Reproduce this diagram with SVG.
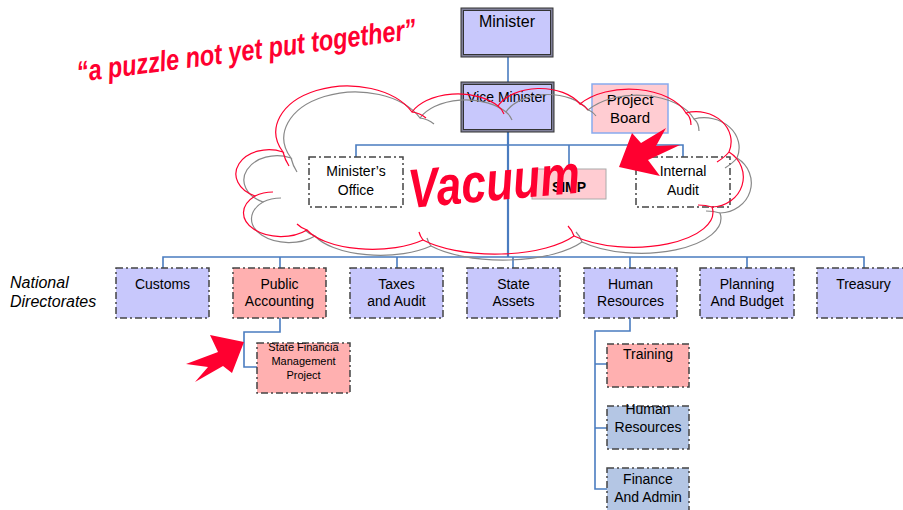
<svg xmlns="http://www.w3.org/2000/svg" width="903" height="510" viewBox="0 0 903 510">
<style>
text{font-family:"Liberation Sans",Arial,sans-serif;fill:#000;text-anchor:middle}
.t14{font-size:14px}
.dd{stroke:#444;stroke-width:1.5;stroke-dasharray:7 3 2 3}
.lav{fill:#c8c8fc}
.pink{fill:#ffb0b0}
.steel{fill:#b4c6e4}
.conn{fill:none;stroke:#4a7cc0;stroke-width:1.6}
.red{fill:#ff0030}
</style>
<defs>
<path id="cloud" d="M283,152 A70,45 0 0 1 412,112 A50,30 0 0 1 498,106 A45,28 0 0 1 580,104 A60,35 0 0 1 686,113 A35,30 0 0 1 729,152 A32,30 0 0 1 712,207 A80,35 0 0 1 574,236 A90,35 0 0 1 423,240 A70,30 0 0 1 307,230 A35,22 0 0 1 255,196 A30,22 0 0 1 283,152 Z"/>
<path id="hooks" d="M283,152 q2,8 6,14 M412,112 q8,1 14,6 M498,106 q4,3 6,8 M580,104 q4,1 8,6 M686,113 q5,4 5,12 M729,152 q-4,5 -12,10 M712,207 q-6,-2 -14,-2 M574,236 q-2,-6 -6,-10 M423,240 q-3,-4 -4,-8 M307,230 q-6,-2 -10,-6 M255,196 q8,-4 18,-4"/>
</defs>
<rect width="903" height="510" fill="#fff"/>
<!-- cloud fill -->
<use href="#cloud" fill="#fff" transform="translate(8,6)"/>
<use href="#cloud" fill="#fff"/>

<!-- quote -->
<text transform="translate(78,82) rotate(-7.3)" x="0" y="0" style="font-size:29px;font-weight:bold;font-style:italic;text-anchor:start;fill:#ff0030" textLength="342" lengthAdjust="spacingAndGlyphs">“a puzzle not yet put together”</text>

<g id="connectors">
<path class="conn" d="M508,57 V82"/>
<path class="conn" d="M508,132 V257" style="stroke-width:2.2"/>
<path class="conn" d="M356,157 V145 H683 V157 M569,145 V169"/>
<path class="conn" d="M163,268 V257 H864 V268 M280,257 V268 M397,257 V268 M513,257 V268 M630,257 V268 M747,257 V268"/>
<path class="conn" d="M280,318 V332 H244 V367 H257"/>
<path class="conn" d="M630,318 V331 H595 V489 H607 M595,364 H607 M595,428 H607"/>
</g>

<g id="minister">
<rect x="461" y="8" width="92" height="49" fill="#80809a" stroke="#333" stroke-width="1"/>
<rect x="463.5" y="10.5" width="87" height="44" class="lav" stroke="#333" stroke-width="1"/>
<text x="507" y="27" style="font-size:16px">Minister</text>
</g>
<g id="vice-minister">
<rect x="461" y="82" width="93" height="50" fill="#80809a" stroke="#333" stroke-width="1"/>
<rect x="463.5" y="84.5" width="88" height="45" class="lav" stroke="#333" stroke-width="1"/>
<text x="507" y="102" class="t14">Vice Minister</text>
</g>
<g id="project-board">
<rect x="592" y="84" width="76" height="49" fill="#ffccd2" stroke="#88aaee" stroke-width="1.5"/>
<text x="630" y="105" style="font-size:15px">Project</text>
<text x="630" y="123" style="font-size:15px">Board</text>
</g>
<g id="ministers-office">
<rect x="309" y="157" width="94" height="50" fill="#fff" class="dd"/>
<text x="356" y="176" class="t14">Minister’s</text>
<text x="356" y="195" class="t14">Office</text>
</g>
<g id="simp">
<rect x="532" y="169" width="74" height="30" fill="#ffccd2" stroke="#aaa" stroke-width="1"/>
<text x="569" y="192" class="t14" style="font-weight:bold">SIMP</text>
</g>
<g id="internal-audit">
<rect x="636" y="157" width="94" height="50" fill="none" class="dd"/>
<text x="683" y="176" class="t14">Internal</text>
<text x="683" y="195" class="t14">Audit</text>
</g>

<!-- cloud outlines -->
<g fill="none" stroke-width="1.2">
<use href="#cloud" stroke="#888" transform="translate(8,6)"/>
<use href="#hooks" stroke="#888" transform="translate(8,6)"/>
<use href="#cloud" stroke="#ff0030"/>
<use href="#hooks" stroke="#ff0030"/>
</g>

<text transform="translate(410,208) rotate(-5.2)" x="0" y="0" style="font-size:55px;font-weight:bold;font-style:italic;text-anchor:start;fill:#ff0030" textLength="172" lengthAdjust="spacingAndGlyphs">Vacuum</text>

<!-- arrows -->
<polygon class="red" points="619,167 632,133 641,143 666,128 656,146 680,145 648,160 660,176"/>
<polygon class="red" points="244,342 210,335 218,352 186,364 208,367 195,382 223,366 232,373"/>

<text x="10" y="288" style="font-size:16px;font-style:italic;text-anchor:start">National</text>
<text x="10" y="307" style="font-size:16px;font-style:italic;text-anchor:start">Directorates</text>

<g id="customs">
<rect x="116" y="268" width="93" height="50" class="lav dd"/>
<text x="162.5" y="289" class="t14">Customs</text>
</g>
<g id="public-accounting">
<rect x="233" y="268" width="93" height="50" class="pink dd"/>
<text x="279.5" y="289" class="t14">Public</text>
<text x="279.5" y="306" class="t14">Accounting</text>
</g>
<g id="taxes-audit">
<rect x="350" y="268" width="93" height="50" class="lav dd"/>
<text x="396.5" y="289" class="t14">Taxes</text>
<text x="396.5" y="306" class="t14">and Audit</text>
</g>
<g id="state-assets">
<rect x="467" y="268" width="93" height="50" class="lav dd"/>
<text x="513.5" y="289" class="t14">State</text>
<text x="513.5" y="306" class="t14">Assets</text>
</g>
<g id="human-resources">
<rect x="584" y="268" width="93" height="50" class="lav dd"/>
<text x="630.5" y="289" class="t14">Human</text>
<text x="630.5" y="306" class="t14">Resources</text>
</g>
<g id="planning-budget">
<rect x="700" y="268" width="94" height="50" class="lav dd"/>
<text x="747" y="289" class="t14">Planning</text>
<text x="747" y="306" class="t14">And Budget</text>
</g>
<g id="treasury">
<rect x="817" y="268" width="93" height="50" class="lav dd"/>
<text x="863.5" y="289" class="t14">Treasury</text>
</g>
<g id="sfmp">
<rect x="257" y="343" width="93" height="50" class="pink dd"/>
<text x="303.5" y="351" style="font-size:11px">State Financia</text>
<text x="303.5" y="365" style="font-size:11px">Management</text>
<text x="303.5" y="379" style="font-size:11px">Project</text>
</g>
<g id="training">
<rect x="607" y="344" width="82" height="43" class="pink dd"/>
<text x="648" y="359" class="t14">Training</text>
</g>
<g id="hr-sub">
<rect x="607" y="406" width="82" height="43" class="steel dd"/>
<text x="648" y="414" class="t14">Human</text>
<text x="648" y="432" class="t14">Resources</text>
</g>
<g id="finance-admin">
<rect x="607" y="468" width="82" height="48" class="steel dd"/>
<text x="648" y="484" class="t14">Finance</text>
<text x="648" y="502" class="t14">And Admin</text>
</g>
</svg>
